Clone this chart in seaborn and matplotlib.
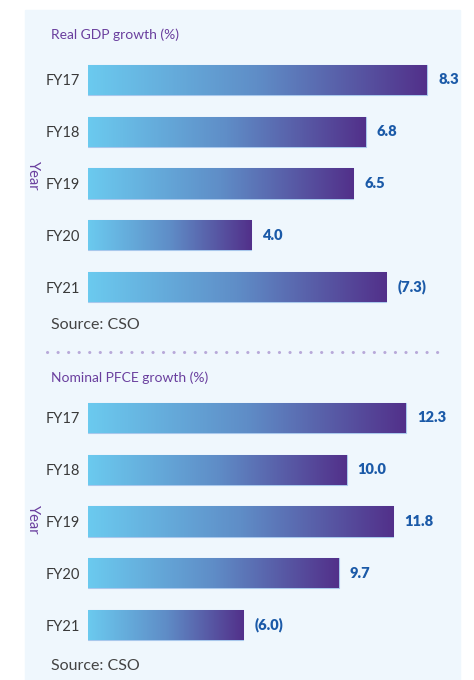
import numpy as np
import pandas as pd
import matplotlib
matplotlib.use("Agg")
import matplotlib.pyplot as plt
from matplotlib.colors import LinearSegmentedColormap
from matplotlib.lines import Line2D
from matplotlib.patches import Rectangle
import seaborn as sns

sns.set_theme(style="white")
plt.rcParams["font.family"] = ["Lato", "DejaVu Sans"]

years = ["FY17", "FY18", "FY19", "FY20", "FY21"]
gdp_growth = [8.3, 6.8, 6.5, 4.0, -7.3]
pfce_growth = [12.3, 10.0, 11.8, 9.7, -6.0]

bg = "#eff7fd"
purple = "#6a3f9e"
label_blue = "#1b5aa8"
grad = LinearSegmentedColormap.from_list("g", ["#6bcaef", "#5f8dc7", "#52308a"])

fig = plt.figure(figsize=(4.74, 6.8), dpi=100)
fig.patches.append(Rectangle((25 / 474, 0), 435 / 474, 1 - 10 / 680,
                             transform=fig.transFigure, color=bg, zorder=-5))


def fmt(v):
    return f"({abs(v):.1f})" if v < 0 else f"{v:.1f}"


def panel(rect, vals, xmax):
    ax = fig.add_axes(rect)
    df = pd.DataFrame({"Year": years, "val": np.abs(vals)})
    sns.barplot(data=df, x="val", y="Year", orient="h", ax=ax, width=0.58,
                color="#6bcaef", edgecolor="#a9c8ec", linewidth=0.8)
    ax.patch.set_visible(False)
    ax.set_xlim(0, xmax)
    for s in ax.spines.values():
        s.set_visible(False)
    ax.set_xticks([])
    ax.set_xlabel("")
    ax.set_ylabel("")
    ax.tick_params(axis="y", length=0, pad=5.5, labelsize=10.5, labelcolor="#3a3a3a")
    grad_img = np.linspace(0, 1, 256).reshape(1, -1)
    for p, v in zip(ax.patches, vals):
        x0, y0 = p.get_x(), p.get_y()
        w, h = p.get_width(), p.get_height()
        im = ax.imshow(grad_img, cmap=grad, aspect="auto",
                       extent=(x0, x0 + w, y0 + h, y0), zorder=p.get_zorder() + 0.1)
        im.set_clip_path(p)
        ax.annotate(fmt(v), (x0 + w, y0 + h / 2), xytext=(8, 0),
                    textcoords="offset points", va="center", ha="left",
                    fontsize=10.5, fontweight="heavy", color=label_blue)
    ax.set_ylim(4.5, -0.5)
    return ax


top = panel([88 / 474, 1 - 313 / 680, 372 / 474, 259 / 680], gdp_growth, 9.11)
bot = panel([88 / 474, 1 - 651 / 680, 372 / 474, 259 / 680], pfce_growth, 14.39)

fig.text(51 / 474, 1 - 35 / 680, "Real GDP growth (%)", color=purple,
         fontsize=10, va="center")
fig.text(51 / 474, 1 - 378 / 680, "Nominal PFCE growth (%)", color=purple,
         fontsize=10, va="center")
fig.text(51 / 474, 1 - 325 / 680, "Source: CSO", color="#444444",
         fontsize=11.5, va="center")
fig.text(51 / 474, 1 - 666 / 680, "Source: CSO", color="#444444",
         fontsize=11.5, va="center")
fig.text(33 / 474, 1 - 176 / 680, "Year", color=purple, fontsize=10.5,
         rotation=-90, va="center", ha="center")
fig.text(33 / 474, 1 - 520 / 680, "Year", color=purple, fontsize=10.5,
         rotation=-90, va="center", ha="center")
fig.lines.append(Line2D([47 / 474, 447 / 474], [1 - 352 / 680, 1 - 352 / 680],
                        transform=fig.transFigure, color="#b8a9d9",
                        linestyle=(0, (0.05, 3.4)), linewidth=2.2,
                        dash_capstyle="round"))

fig.savefig("out.png", dpi=100, facecolor="white")
